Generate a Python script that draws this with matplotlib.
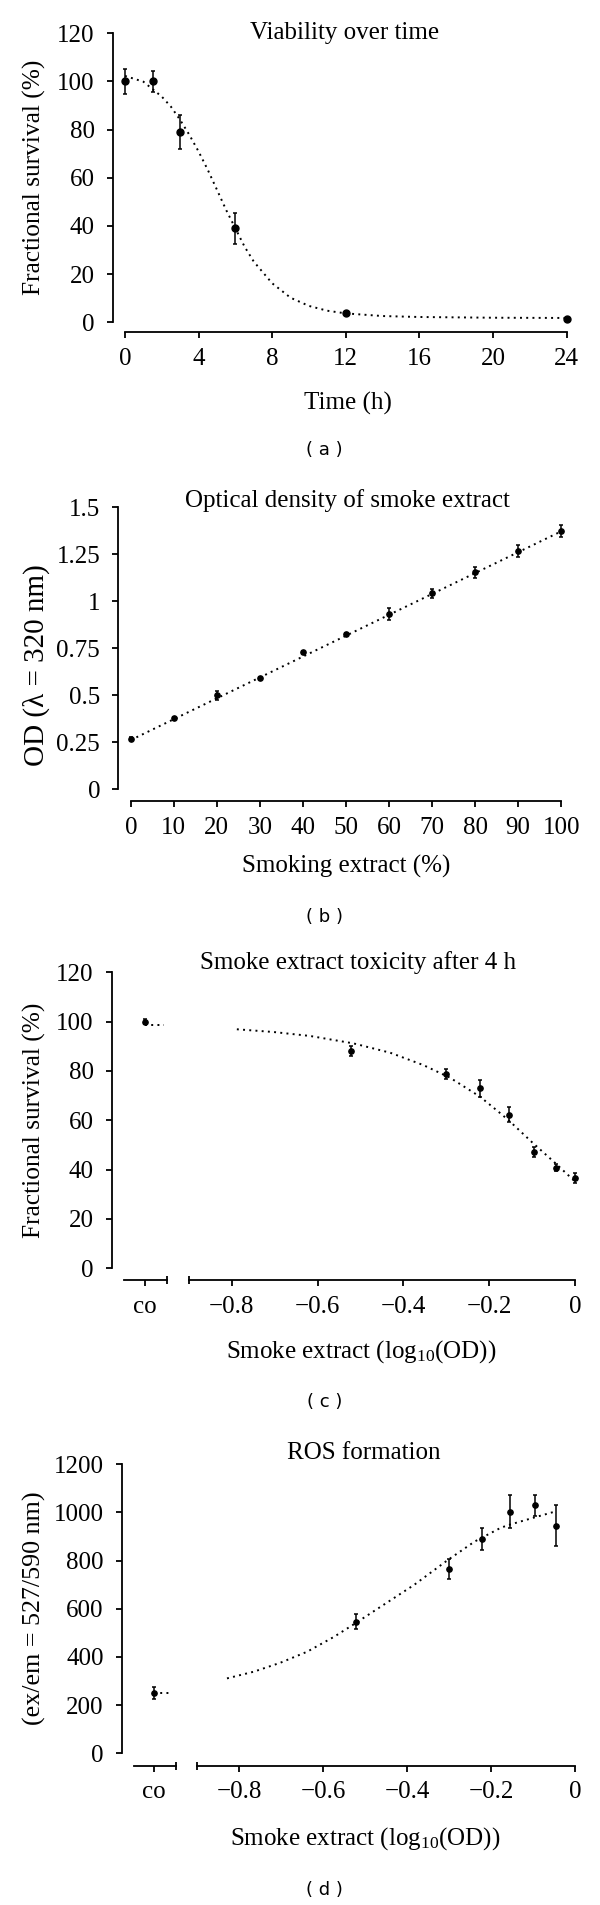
import matplotlib
matplotlib.use("Agg")
import matplotlib.pyplot as plt
from matplotlib.ticker import FuncFormatter

plt.rcParams['font.family'] = ['Liberation Serif', 'DejaVu Serif']
plt.rcParams['mathtext.fontset'] = 'custom'
plt.rcParams['mathtext.rm'] = 'Liberation Serif'
plt.rcParams['mathtext.it'] = 'Liberation Serif:italic'
plt.rcParams['axes.unicode_minus'] = True

# ---------------- data ----------------
# (a) viability over time
time_h = [0, 1.5, 3, 6, 12, 24]
viab = [100, 100, 79, 39, 3.7, 1.2]
viab_err = [5.2, 4.2, 7.2, 6.5, 0, 0]
viab_fit_x = [0, 1, 2, 2.5, 3, 3.5, 4, 4.5, 5, 5.5, 6, 6.5, 7, 8, 9, 10, 11, 12, 14, 16, 20, 24]
viab_fit_y = [102.3, 99.9, 93.7, 89.5, 84, 77.8, 70.9, 63.3, 55, 46.6, 39, 31.4, 25.2,
              16.2, 10.2, 6.8, 4.8, 3.7, 2.6, 2.2, 1.9, 1.8]

# (b) optical density
smoke_pct = [0, 10, 20, 30, 40, 50, 60, 70, 80, 90, 100]
od = [0.27, 0.378, 0.50, 0.592, 0.73, 0.826, 0.933, 1.043, 1.154, 1.268, 1.374]
od_err = [0.008, 0.008, 0.025, 0.008, 0.008, 0.008, 0.03, 0.025, 0.03, 0.03, 0.03]
od_fit_x = [0, 100]
od_fit_y = [0.262, 1.372]

# (c) toxicity after 4 h
log_od = [-0.523, -0.301, -0.222, -0.155, -0.097, -0.046, 0.0]
tox = [88.1, 78.9, 73.0, 62.2, 47.0, 40.8, 36.5]
tox_err = [2.0, 2.0, 3.5, 3.0, 2.0, 1.5, 2.0]
tox_co, tox_co_err, tox_co_fit = 100.0, 1.0, 98.8
tox_fit_x = [-0.788, -0.703, -0.618, -0.517, -0.431, -0.354, -0.292, -0.222, -0.179,
             -0.155, -0.1, -0.05, 0.0]
tox_fit_y = [96.9, 95.8, 94.2, 91.2, 87.4, 82.4, 77.3, 69.6, 63.5, 60, 51, 43.2, 35.1]

# (d) ROS formation
log_od_d = [-0.523, -0.301, -0.222, -0.155, -0.097, -0.047]
ros = [547, 765, 890, 1003, 1030, 944]
ros_err = [30, 40, 45, 68, 44, 85]
ros_co, ros_co_err, ros_co_fit = 249, 25, 250
ros_fit_x = [-0.829, -0.765, -0.702, -0.638, -0.574, -0.527, -0.463, -0.384, -0.304,
             -0.24, -0.177, -0.155, -0.1, -0.05]
ros_fit_y = [311, 339, 376, 422, 484, 536, 609, 699, 802, 879, 937, 950, 978, 1003]

# ---------------- layout ----------------
W, H = 600, 1905
fig = plt.figure(figsize=(W / 100, H / 100), dpi=100)

FS = 18
LW = 1.3
DOT = (0, (1.0, 2.2))
DLW = 1.4


def add_ax(left, right, top, bottom):
    return fig.add_axes([left / W, 1 - bottom / H, (right - left) / W, (bottom - top) / H])


def style(ax, outward):
    for s in ('top', 'right'):
        ax.spines[s].set_visible(False)
    for s in ('left', 'bottom'):
        ax.spines[s].set_linewidth(LW)
    ax.spines['bottom'].set_position(('outward', outward))
    ax.tick_params(axis='both', which='major', direction='out', length=4.4, width=LW,
                   labelsize=FS, color='black')
    ax.tick_params(axis='y', pad=8.5)
    ax.tick_params(axis='x', pad=7)
    ax.patch.set_visible(False)


def ptxt(x, y, s, **kw):
    fig.text(x / W, 1 - y / H, s, ha='center', va='center', **kw)


def err(ax, x, y, e, ms):
    ax.errorbar(x, y, yerr=e, fmt='o', color='black', ms=ms, elinewidth=1.1,
                capsize=1.6, capthick=1.1, zorder=3, clip_on=False)


def numfmt(v, pos):
    s = ('%g' % v)
    return s.replace('-', '\u2212')


# ---- panel a ----
ax = add_ax(112.7, 575.7, 33.3, 322.3)
ax.set_ylim(0, 120)
ax.set_xlim(-0.669, 24.5)
style(ax, 7.2)
ax.spines['bottom'].set_bounds(0, 24)
ax.set_xticks([0, 4, 8, 12, 16, 20, 24])
ax.set_yticks([0, 20, 40, 60, 80, 100, 120])
ax.plot(viab_fit_x, viab_fit_y, color='black', lw=DLW, linestyle=DOT, clip_on=False)
err(ax, time_h, viab, viab_err, 5.0)
ptxt(344.2, 33, 'Viability over time', fontsize=FS)
ptxt(34.6, 177.5, 'Fractional survival (%)', rotation=90, fontsize=18.3)
ptxt(348, 403, 'Time (h)', fontsize=FS)
ptxt(324.2, 450, '( a )', fontsize=13, family='DejaVu Sans')

# ---- panel b ----
ax = add_ax(118.1, 567.6, 507.3, 789.3)
ax.set_ylim(0, 1.5)
ax.set_xlim(-2.95, 101.5)
style(ax, 8.4)
ax.spines['bottom'].set_bounds(0, 100)
ax.set_xticks(smoke_pct)
ax.set_yticks([0, 0.25, 0.5, 0.75, 1, 1.25, 1.5])
ax.yaxis.set_major_formatter(FuncFormatter(numfmt))
ax.plot(od_fit_x, od_fit_y, color='black', lw=DLW, linestyle=DOT, clip_on=False)
err(ax, smoke_pct, od, od_err, 3.8)
ptxt(347.1, 500.7, 'Optical density of smoke extract', fontsize=FS)
ptxt(36.5, 665, 'OD (\u03bb = 320 nm)', rotation=90, fontsize=21)
ptxt(346.2, 866.7, 'Smoking extract (%)', fontsize=FS)
ptxt(324.2, 916.7, '( b )', fontsize=13, family='DejaVu Sans')


# ---- panels c and d (broken x axis) ----
def broken(left, top, bottom, outward, xlim_left, co_pos, co_l, co_r):
    ax = add_ax(left, 581.7, top, bottom)
    style(ax, outward)
    ax.set_xlim(xlim_left, 0.015)
    ax.spines['bottom'].set_bounds(-0.9, 0)
    ax.set_xticks([-0.8, -0.6, -0.4, -0.2, 0])
    ax.xaxis.set_major_formatter(FuncFormatter(numfmt))
    ax.set_xticks([-0.9], minor=True)
    ax.tick_params(axis='x', which='minor', direction='inout', length=5.5, width=LW)
    ax2 = ax.twiny()
    ax2.set_xlim(ax.get_xlim())
    for s in ('top', 'right', 'left'):
        ax2.spines[s].set_visible(False)
    ax2.spines['bottom'].set_visible(True)
    ax2.spines['bottom'].set_linewidth(LW)
    ax2.spines['bottom'].set_position(('outward', outward))
    ax2.spines['bottom'].set_bounds(co_l, co_r)
    ax2.xaxis.set_ticks_position('bottom')
    ax2.xaxis.set_label_position('bottom')
    ax2.set_xticks([co_pos])
    ax2.set_xticklabels(['co'])
    ax2.set_xticks([co_r], minor=True)
    ax2.tick_params(axis='x', which='major', direction='out', length=4.4, width=LW,
                    labelsize=FS, pad=7)
    ax2.tick_params(axis='x', which='minor', direction='inout', length=5.5, width=LW)
    return ax


CO_C = -1.0028
ax = broken(111.5, 972.3, 1268.3, 8.4, -1.0799, CO_C, -1.0512, -0.9518)
ax.set_ylim(0, 120)
ax.set_yticks([0, 20, 40, 60, 80, 100, 120])
ax.plot(tox_fit_x, tox_fit_y, color='black', lw=DLW, linestyle=DOT, clip_on=False)
ax.plot([CO_C, CO_C + 0.044], [tox_co_fit, tox_co_fit], color='black', lw=DLW, linestyle=DOT)
err(ax, log_od, tox, tox_err, 3.8)
err(ax, [CO_C], [tox_co], [tox_co_err], 3.8)
ptxt(358.5, 962.7, 'Smoke extract toxicity after 4 h', fontsize=FS)
ptxt(34.6, 1120.8, 'Fractional survival (%)', rotation=90, fontsize=18.3)
ptxt(361.5, 1351.7, r'Smoke extract (log$_{10}$(OD))', fontsize=FS)
ptxt(324.2, 1401.7, '( c )', fontsize=13, family='DejaVu Sans')

CO_D = -1.002
ax = broken(121.5, 1464.3, 1753.3, 8.9, -1.08, CO_D, -1.0506, -0.9504)
ax.set_ylim(0, 1200)
ax.set_yticks([0, 200, 400, 600, 800, 1000, 1200])
ax.plot(ros_fit_x, ros_fit_y, color='black', lw=DLW, linestyle=DOT, clip_on=False)
ax.plot([CO_D, CO_D + 0.041], [ros_co_fit, ros_co_fit], color='black', lw=DLW, linestyle=DOT)
err(ax, log_od_d, ros, ros_err, 3.8)
err(ax, [CO_D], [ros_co], [ros_co_err], 3.8)
ptxt(363.5, 1453, 'ROS formation', fontsize=FS)
ptxt(34.6, 1608.3, '(ex/em = 527/590 nm)', rotation=90, fontsize=18.7)
ptxt(365.4, 1838.3, r'Smoke extract (log$_{10}$(OD))', fontsize=FS)
ptxt(324.2, 1890, '( d )', fontsize=13, family='DejaVu Sans')

fig.savefig('out.png', dpi=100, facecolor='white')
